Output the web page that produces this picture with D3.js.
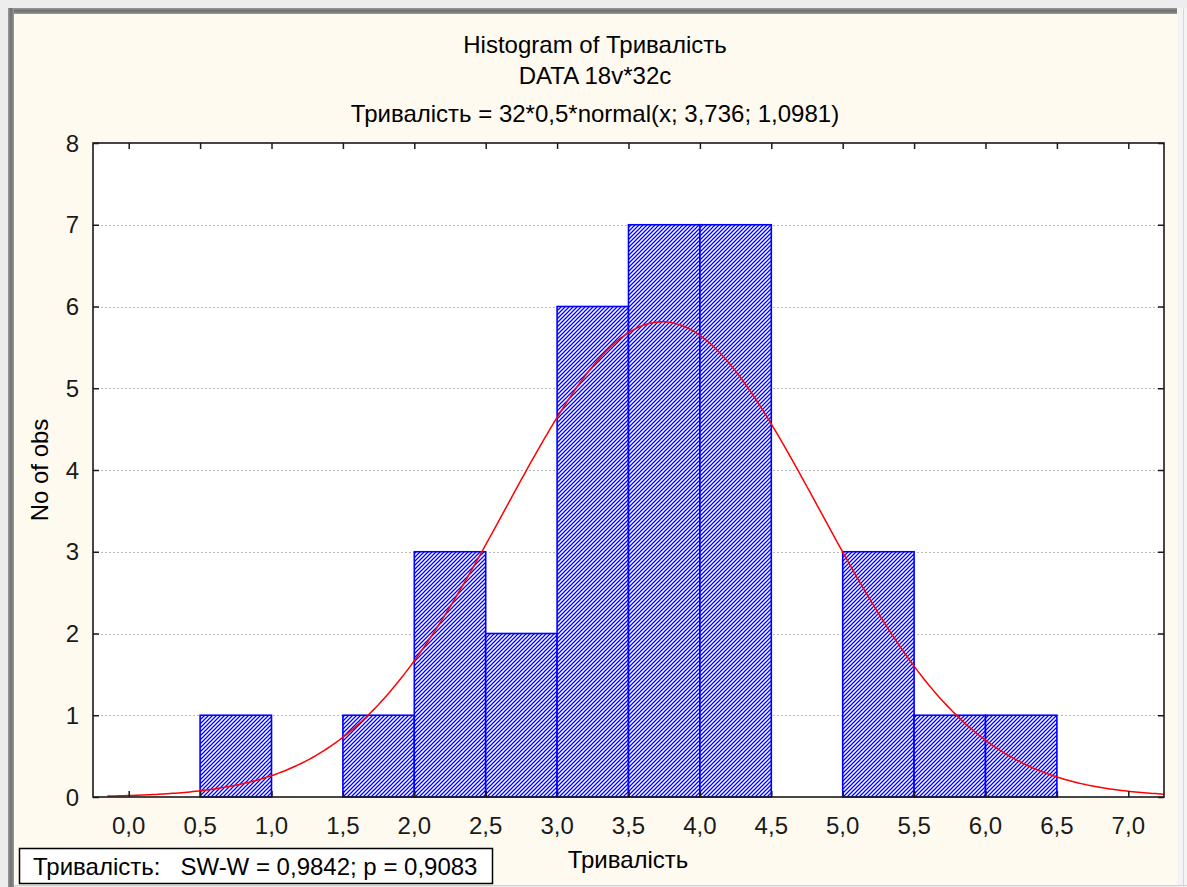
<!DOCTYPE html>
<html>
<head>
<meta charset="utf-8">
<script src="https://cdn.jsdelivr.net/npm/d3@7"></script>
<style>
  html, body { margin: 0; padding: 0; background: #eeeeee; }
  svg { display: block; }
  text { font-family: "Liberation Sans", Arial, sans-serif; }
</style>
</head>
<body>
<svg id="chart" width="1187" height="887"></svg>
<script>
// ---- data ----
const binStarts = [0.5, 1.5, 2.0, 2.5, 3.0, 3.5, 4.0, 5.0, 5.5, 6.0];
const binCounts = [1, 1, 3, 2, 6, 7, 7, 3, 1, 1];
const binWidth = 0.5;
const xTicks = [0, 0.5, 1, 1.5, 2, 2.5, 3, 3.5, 4, 4.5, 5, 5.5, 6, 6.5, 7];
const yTicks = [0, 1, 2, 3, 4, 5, 6, 7, 8];
const fitN = 32, fitMean = 3.736, fitSd = 1.0981;
const titleLines = ["Histogram of Тривалість", "DATA 18v*32c", "Тривалість = 32*0,5*normal(x; 3,736; 1,0981)"];
const xLabel = "Тривалість";
const yLabel = "No of obs";
const statText = "Тривалість:   SW-W = 0,9842; p = 0,9083";

const svg = d3.select("#chart");
const W = 1187, H = 887;
const FS = 24;

// ---- frame ----
svg.append("rect").attr("x", 0).attr("y", 0).attr("width", W).attr("height", H).attr("fill", "#ededed");
const defs = svg.append("defs");
const gTop = defs.append("linearGradient").attr("id", "gTop").attr("x1", 0).attr("y1", 0).attr("x2", 0).attr("y2", 1);
gTop.append("stop").attr("offset", "0%").attr("stop-color", "#9a9a9a");
gTop.append("stop").attr("offset", "50%").attr("stop-color", "#6e6e6e");
gTop.append("stop").attr("offset", "100%").attr("stop-color", "#9a9a9a");
const gLeft = defs.append("linearGradient").attr("id", "gLeft").attr("x1", 0).attr("y1", 0).attr("x2", 1).attr("y2", 0);
gLeft.append("stop").attr("offset", "0%").attr("stop-color", "#9a9a9a");
gLeft.append("stop").attr("offset", "50%").attr("stop-color", "#6e6e6e");
gLeft.append("stop").attr("offset", "100%").attr("stop-color", "#9a9a9a");
svg.append("rect").attr("x", 8).attr("y", 8).attr("width", 1170).attr("height", 6).attr("fill", "url(#gTop)");
svg.append("rect").attr("x", 8).attr("y", 8).attr("width", 6).attr("height", H - 8).attr("fill", "url(#gLeft)");
svg.append("rect").attr("x", 1177).attr("y", 8).attr("width", 10).attr("height", H - 8).attr("fill", "#f4f4f4");
svg.append("line").attr("x1", 1183.5).attr("x2", 1183.5).attr("y1", 8).attr("y2", H).attr("stroke", "#d6d6d6");
svg.append("rect").attr("x", 14).attr("y", 14).attr("width", 1163).attr("height", 871).attr("fill", "#fffaef");
svg.append("line").attr("x1", 14).attr("x2", 1187).attr("y1", 885.5).attr("y2", 885.5).attr("stroke", "#d0d0d0");

// ---- hatch pattern ("/" diagonals, 4px period) ----
const pat = defs.append("pattern").attr("id", "hatch").attr("patternUnits", "userSpaceOnUse")
  .attr("width", 4).attr("height", 4);
pat.append("rect").attr("width", 4).attr("height", 4).attr("fill", "#ffffff");
pat.append("path").attr("d", "M-1,1 l2,-2 M0,4 l4,-4 M3,5 l2,-2")
  .attr("stroke", "#0000ff").attr("stroke-width", 1.25);

// ---- scales ----
const L = 93, R = 1164, T = 143, B = 797;
const x = d3.scaleLinear().domain([-0.25, 7.25]).range([L, R]);
const y = d3.scaleLinear().domain([0, 8]).range([B, T]);

// plot background
svg.append("rect").attr("x", L).attr("y", T).attr("width", R - L).attr("height", B - T).attr("fill", "#ffffff");

// grid
svg.append("g").selectAll("line").data(yTicks.filter(d => d > 0 && d < 8)).join("line")
  .attr("x1", L).attr("x2", R).attr("y1", d => Math.round(y(d)) + 0.5).attr("y2", d => Math.round(y(d)) + 0.5)
  .attr("stroke", "#b8b8b8").attr("stroke-dasharray", "2,2").attr("stroke-width", 1);

// bars
const bars = binStarts.map((s, i) => ({ s, c: binCounts[i] }));
svg.append("g").selectAll("rect").data(bars).join("rect")
  .attr("x", d => x(d.s)).attr("y", d => y(d.c))
  .attr("width", d => x(d.s + binWidth) - x(d.s)).attr("height", d => y(0) - y(d.c))
  .attr("fill", "url(#hatch)").attr("stroke", "#0000ff").attr("stroke-width", 1.6);

// fitted normal curve (from the formula in the subtitle)
const pdf = v => fitN * binWidth * Math.exp(-0.5 * ((v - fitMean) / fitSd) ** 2) / (fitSd * Math.sqrt(2 * Math.PI));
const xs = d3.range(-0.15, 7.2501, 0.02);
svg.append("path").datum(xs)
  .attr("d", d3.line().x(v => x(v)).y(v => y(pdf(v))))
  .attr("fill", "none").attr("stroke", "#ff0000").attr("stroke-width", 1.5);

// axes frame
svg.append("rect").attr("x", L).attr("y", T).attr("width", R - L).attr("height", B - T)
  .attr("fill", "none").attr("stroke", "#1a1a1a").attr("stroke-width", 1.6);

// axes via d3
const fmt = d => d3.format(".1f")(d).replace(".", ",");
const axB = svg.append("g").attr("transform", `translate(0,${B})`)
  .call(d3.axisTop(x).tickValues(xTicks).tickSize(6).tickFormat(""));
const axT = svg.append("g").attr("transform", `translate(0,${T})`)
  .call(d3.axisBottom(x).tickValues(xTicks).tickSize(6).tickFormat(""));
const axL = svg.append("g").attr("transform", `translate(${L},0)`)
  .call(d3.axisRight(y).tickValues(yTicks).tickSize(6).tickFormat(""));
const axR = svg.append("g").attr("transform", `translate(${R},0)`)
  .call(d3.axisLeft(y).tickValues(yTicks).tickSize(6).tickFormat(""));
[axB, axT, axL, axR].forEach(g => {
  g.select(".domain").remove();
  g.selectAll(".tick line").attr("stroke", "#1a1a1a").attr("stroke-width", 1.5);
});

// tick labels
svg.append("g").selectAll("text").data(xTicks).join("text")
  .attr("x", d => x(d)).attr("y", 834).attr("text-anchor", "middle")
  .attr("font-size", FS).attr("fill", "#1a1a1a").text(fmt);
svg.append("g").selectAll("text").data(yTicks).join("text")
  .attr("x", 79).attr("y", d => y(d) + 8.5).attr("text-anchor", "end")
  .attr("font-size", FS).attr("fill", "#1a1a1a").text(d => d);

// titles
const titleY = [53, 84, 122];
svg.append("g").selectAll("text").data(titleLines).join("text")
  .attr("x", 595).attr("y", (d, i) => titleY[i]).attr("text-anchor", "middle")
  .attr("font-size", FS).attr("fill", "#000").text(d => d);

// axis labels
svg.append("text").attr("x", 628).attr("y", 868).attr("text-anchor", "middle")
  .attr("font-size", FS).attr("fill", "#000").text(xLabel);
svg.append("text").attr("transform", "translate(48,470) rotate(-90)").attr("text-anchor", "middle")
  .attr("font-size", FS).attr("fill", "#000").text(yLabel);

// stat box
svg.append("rect").attr("x", 19.5).attr("y", 848.5).attr("width", 473).attr("height", 35)
  .attr("fill", "#ffffff").attr("stroke", "#000").attr("stroke-width", 1.5);
svg.append("text").attr("x", 33).attr("y", 875).attr("font-size", FS).attr("fill", "#000")
  .attr("xml:space", "preserve").style("white-space", "pre").text(statText);
</script>
</body>
</html>
